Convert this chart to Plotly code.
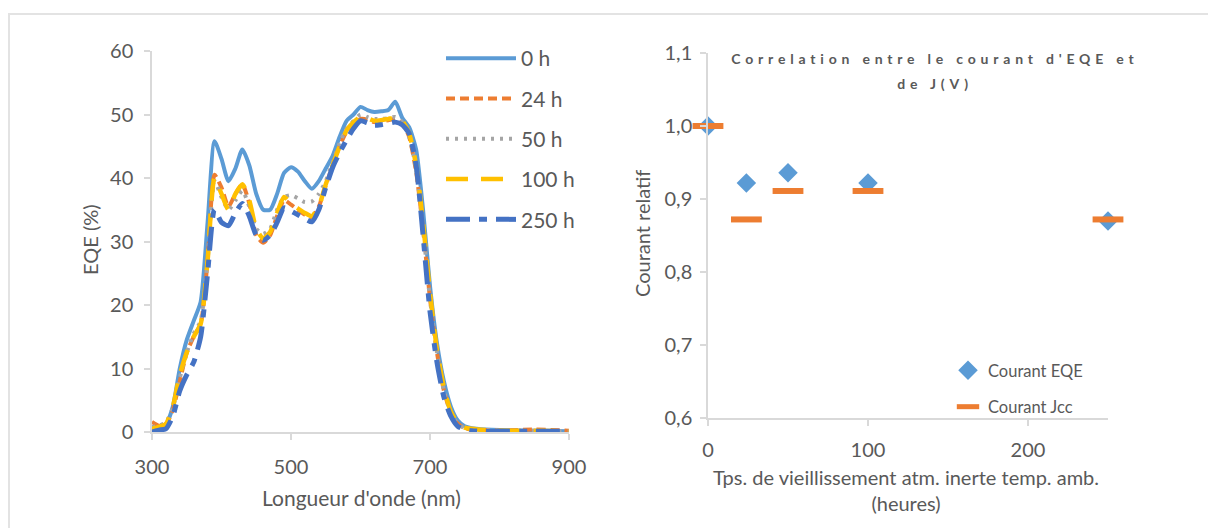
import plotly.graph_objects as go

# ---------------- data ----------------
wavelength_nm = [300, 310, 320, 330, 340, 350, 360, 370, 380, 390, 400, 410, 420, 430, 440,
                 450, 460, 470, 480, 490, 500, 510, 520, 530, 540, 550, 560, 570, 580, 590,
                 600, 610, 620, 630, 640, 650, 660, 670, 680, 690, 700, 710, 720, 730, 740,
                 750, 760, 780, 800, 850, 900]

eqe_0h = [0.5, 0.7, 1.2, 4, 10, 14.5, 17.5, 20.5, 33, 45.8, 43, 39.5, 41.5, 44.5, 42,
          37.5, 35, 35, 37.5, 40.8, 41.7, 41, 39.5, 38.3, 39.5, 41.5, 43.5, 46.5, 49, 50,
          51.2, 50.7, 50.4, 50.5, 50.7, 52, 49.5, 48, 44.5, 35, 23, 14, 8, 4, 1.8,
          0.9, 0.6, 0.4, 0.3, 0.2, 0.1]

eqe_24h = [1.6, 1.0, 1.2, 3.5, 8, 12.5, 15, 17, 27, 40.5, 38.5, 35.5, 37.5, 39, 36,
           31, 29.8, 31, 34, 36.5, 35.8, 35, 34.2, 33.8, 35.5, 38.8, 42, 45, 47.3, 48.5,
           49.3, 49.2, 48.8, 48.9, 49.1, 49.3, 48.6, 46.5, 41, 32, 21, 12.5, 6.5, 3, 1.3,
           0.6, 0.4, 0.3, 0.2, 0.4, 0.2]

eqe_50h = [0.8, 1.0, 1.5, 3.8, 8.5, 12.5, 15.5, 17.5, 27, 39.5, 37, 35, 36.5, 38, 35.5,
           32, 31.2, 32, 35, 37, 37.3, 36.8, 36.2, 36.3, 37.5, 39.5, 42.5, 45.5, 47.8, 49,
           50, 49.6, 49.3, 49.3, 49.4, 49.6, 48.8, 46.5, 41.5, 32, 21, 12.5, 6.5, 3, 1.3,
           0.6, 0.4, 0.3, 0.2, 0.2, 0.1]

eqe_100h = [0.5, 0.8, 1.3, 4, 9, 12.5, 15, 17, 27, 40, 37.5, 35, 37.5, 39, 36.5,
            32, 30.5, 31.5, 34.5, 37, 36, 35.2, 34.5, 34, 35.5, 39, 42, 45, 47.5, 48.8,
            49.6, 49.4, 49, 49.1, 49.3, 49.5, 49, 47, 42, 33, 22, 13, 7, 3.2, 1.4,
            0.7, 0.5, 0.3, 0.2, 0.2, 0.1]

eqe_250h = [0.0, 0.3, 0.5, 2.5, 6.5, 9, 11, 15, 25, 35, 33, 32.5, 34.5, 36, 34,
            31, 30.2, 31, 33, 35.3, 34.8, 34.2, 33.6, 33.1, 35, 38.5, 41.7, 44, 46, 47.8,
            49, 48.7, 48.3, 48.4, 48.6, 48.8, 48.4, 47, 42, 31, 19, 11, 5.5, 2.5, 0.9,
            0.4, 0.2, 0.1, 0.1, 0.1, 0.1]

series_names = ["0 h", "24 h", "50 h", "100 h", "250 h"]
x_ticks_left = [300, 500, 700, 900]

aging_hours = [0, 24, 50, 100, 250]
courant_eqe = [1.0, 0.922, 0.936, 0.922, 0.870]
courant_jcc = [1.0, 0.872, 0.911, 0.911, 0.872]
x_ticks_right = [0, 100, 200]

# ---------------- figure ----------------
W, H = 1208, 528
FONT = "Lato, Carlito, Calibri, sans-serif"
GREY_TXT = "#595959"
AXIS_COL = "#d9d9d9"


def px_x(p):
    return p / W


def px_y(p):
    return 1 - p / H


fig = go.Figure()

styles = [
    ("#5B9BD5", "solid", 4),
    ("#ED7D31", "9px,5px", 4),
    ("#A5A5A5", "3px,6px", 4),
    ("#FFC000", "22px,13px", 4.5),
    ("#4472C4", "24px,9px,8px,9px", 5),
]
all_eqe = [eqe_0h, eqe_24h, eqe_50h, eqe_100h, eqe_250h]
for name, vals, (col, dash, w) in zip(series_names, all_eqe, styles):
    fig.add_trace(go.Scatter(
        x=wavelength_nm, y=vals, name=name, mode="lines",
        line=dict(color=col, dash=dash, width=w, shape="spline", smoothing=0.6),
        xaxis="x", yaxis="y", legend="legend", legendgroup=name,
    ))

fig.add_trace(go.Scatter(
    x=aging_hours, y=courant_eqe, name="Courant EQE", mode="markers",
    marker=dict(symbol="diamond", size=15, color="#5B9BD5"),
    xaxis="x2", yaxis="y2", legend="legend2", legendgroup="eqe", cliponaxis=False,
))
fig.add_trace(go.Scatter(
    x=aging_hours, y=courant_jcc, name="Courant Jcc", mode="markers",
    marker=dict(symbol="line-ew", size=22, color="#ED7D31",
                line=dict(color="#ED7D31", width=6)),
    xaxis="x2", yaxis="y2", legend="legend2", legendgroup="jcc", cliponaxis=False,
))

tick_font = dict(family=FONT, size=20, color=GREY_TXT)
common_axis = dict(showgrid=False, zeroline=False, showline=True, linecolor=AXIS_COL,
                   linewidth=1.5, ticks="outside", ticklen=6, tickcolor=AXIS_COL,
                   tickwidth=1.5, tickfont=tick_font, automargin=False)

fig.update_layout(
    width=W, height=H,
    margin=dict(l=0, r=0, t=0, b=0),
    paper_bgcolor="white", plot_bgcolor="white",
    separators=", ",
    font=dict(family=FONT, color=GREY_TXT),
    xaxis=dict(domain=[px_x(152), px_x(569)], range=[300, 900], tickvals=x_ticks_left,
               anchor="y", ticklabelstandoff=10, **common_axis),
    yaxis=dict(domain=[px_y(432), px_y(51)], range=[0, 60], dtick=10,
               anchor="x", ticklabelstandoff=7, **common_axis),
    xaxis2=dict(domain=[px_x(708), px_x(1108)], range=[0, 250], tickvals=x_ticks_right,
                anchor="y2", ticklabelstandoff=7, **common_axis),
    yaxis2=dict(domain=[px_y(418), px_y(53)], range=[0.6, 1.1], dtick=0.1, tickformat=".1f",
                anchor="x2", ticklabelstandoff=4, **common_axis),
    legend=dict(x=px_x(441), y=px_y(38), xanchor="left", yanchor="top",
                bgcolor="rgba(0,0,0,0)", itemwidth=70, tracegroupgap=10,
                font=dict(family=FONT, size=21, color=GREY_TXT)),
    legend2=dict(x=px_x(948), y=px_y(353), xanchor="left", yanchor="top",
                 bgcolor="rgba(0,0,0,0)", tracegroupgap=12,
                 font=dict(family=FONT, size=16.5, color=GREY_TXT)),
    showlegend=True,
)


def note(text, x, y, size, angle=0, **font_extra):
    fig.add_annotation(text=text, x=px_x(x), y=px_y(y), xref="paper", yref="paper",
                       xanchor="center", yanchor="middle", showarrow=False,
                       textangle=angle,
                       font=dict(family=FONT, size=size, color=GREY_TXT, **font_extra))


note("EQE (%)", 90, 240, 20, angle=-90)
note("Longueur d'onde (nm)", 361, 497, 21)
note("Courant relatif", 642, 234, 20, angle=-90)
note("Tps. de vieillissement atm. inerte temp. amb.<br>(heures)", 906, 490, 20)
note("Correlation entre le courant d'EQE et", 935, 58, 14, weight="bold")
note("de J(V)", 935, 83, 14, weight="bold")

# outer chart frame
fig.add_shape(type="rect", xref="paper", yref="paper", x0=px_x(9), x1=1.05,
              y0=-0.05, y1=px_y(14), line=dict(color="#e3e3e3", width=2), layer="below")

post_js = """
document.body.style.margin = '0';
document.body.style.padding = '0';
var gd = document.getElementById('{plot_id}');
function spaceTitle(){
  gd.querySelectorAll('text').forEach(function(t){
    var s = t.textContent;
    if(s.indexOf('Correlation') >= 0 || s === 'de J(V)'){ t.style.letterSpacing = '4.8px'; }
  });
}
spaceTitle();
gd.on('plotly_afterplot', spaceTitle);
"""

fig.write_html("out.html", post_script=post_js, config={"displayModeBar": False})
